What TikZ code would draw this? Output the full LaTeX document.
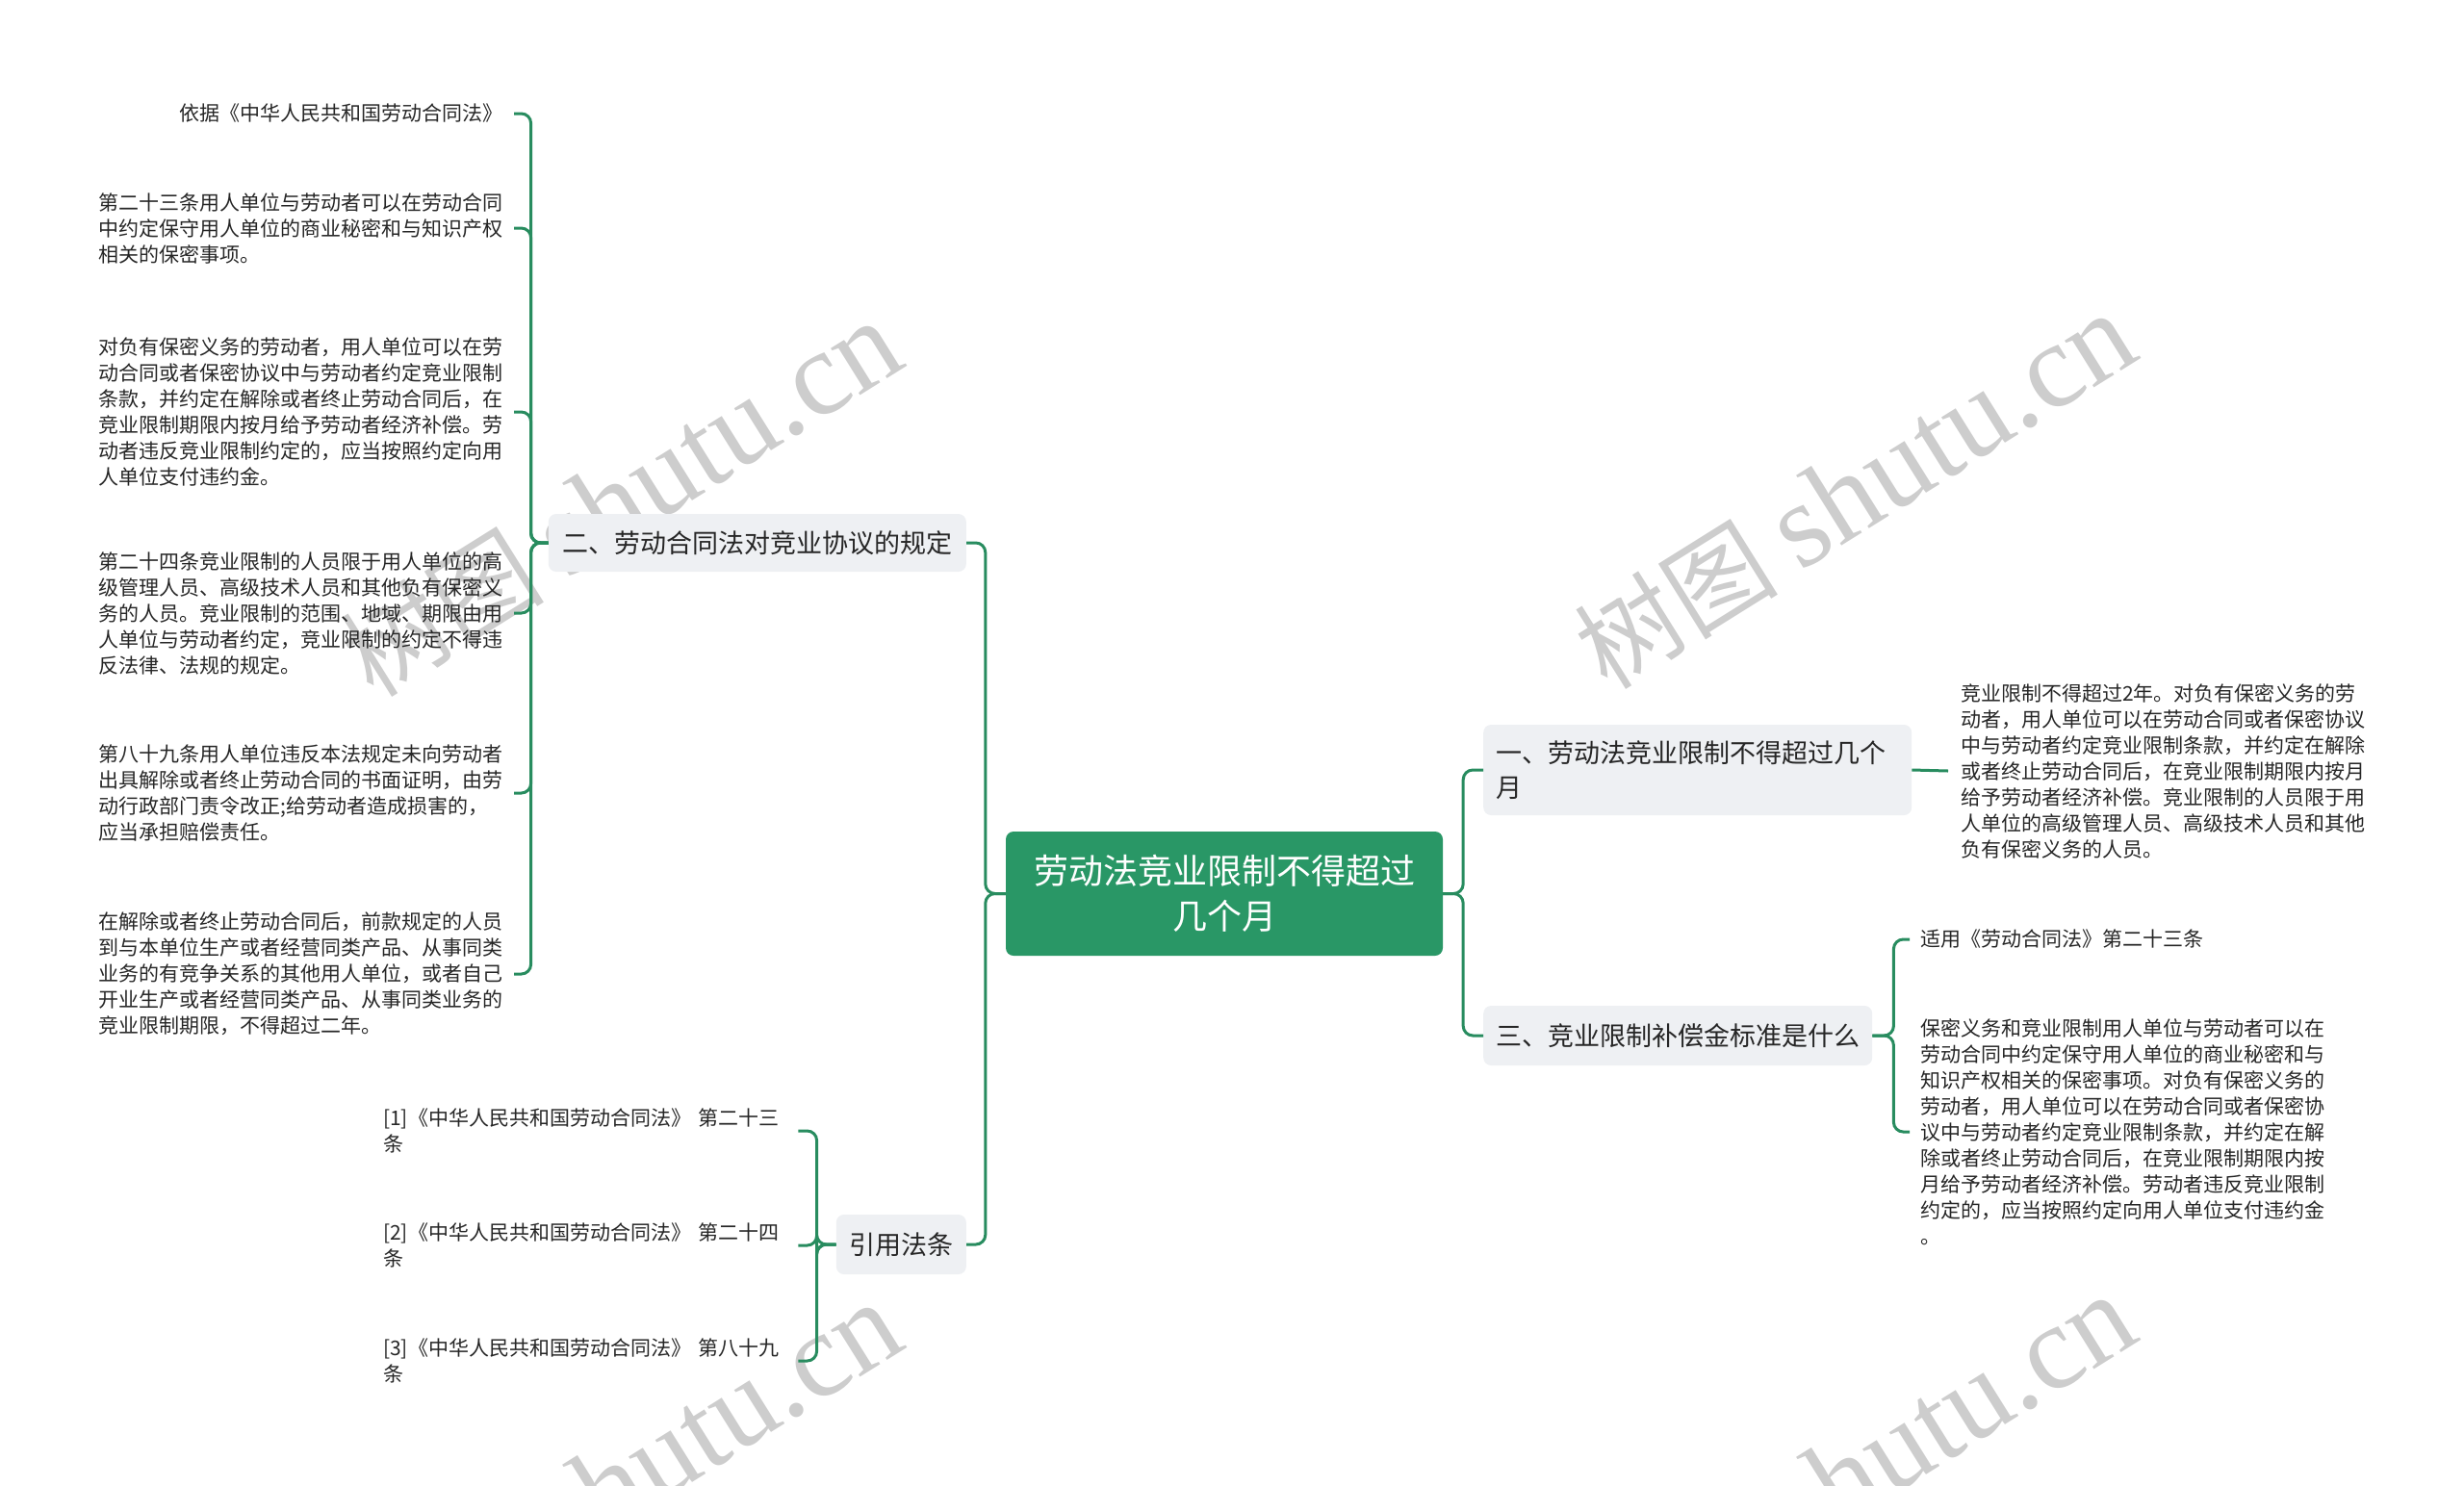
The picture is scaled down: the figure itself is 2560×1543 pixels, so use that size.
\documentclass[tikz,border=0pt]{standalone}
\usepackage{fontspec}
\setmainfont{Noto Sans CJK SC}
\newfontfamily\wmcjk{Noto Sans CJK SC}
\newfontfamily\wmlat{Liberation Serif}
\definecolor{cgreen}{RGB}{41,151,102}
\definecolor{lgreen}{RGB}{40,140,95}
\definecolor{lvlone}{RGB}{238,240,243}
\definecolor{txt}{RGB}{38,38,38}
\definecolor{wm}{RGB}{205,205,205}
\tikzset{
  conn/.style={draw=lgreen, line width=3pt, rounded corners=10pt},
  rootbox/.style={fill=cgreen, rounded corners=8pt, text=white, align=center,
    font=\fontsize{36}{47}\selectfont, minimum width=454pt, minimum height=129pt, inner sep=0pt},
  lvlbox/.style={fill=lvlone, rounded corners=8pt, text=txt, align=left,
    font=\fontsize{27}{36}\selectfont, inner ysep=0pt},
  leaf/.style={text=txt, align=left, font=\fontsize{21}{27}\selectfont, inner xsep=11pt, inner ysep=2pt},
  wmark/.style={text=wm, rotate=32, inner sep=0pt}
}
\begin{document}
\begin{tikzpicture}[x=1pt,y=-1pt]
\useasboundingbox (0,0) rectangle (2560,1543);
% watermarks
\node[wmark] (w1) at (645,519) {\wmcjk\fontsize{106}{110}\selectfont 树图\ \wmlat\fontsize{125}{125}\selectfont shutu.cn};
\node[wmark] (w2) at (1927,511) {\wmcjk\fontsize{106}{110}\selectfont 树图\ \wmlat\fontsize{125}{125}\selectfont shutu.cn};
\node[wmark] (w3) at (645,1539) {\wmcjk\fontsize{106}{110}\selectfont 树图\ \wmlat\fontsize{125}{125}\selectfont shutu.cn};
\node[wmark] (w4) at (1927,1531) {\wmcjk\fontsize{106}{110}\selectfont 树图\ \wmlat\fontsize{125}{125}\selectfont shutu.cn};

% root
\node[rootbox] (root) at (1272,928.5) {劳动法竞业限制不得超过\\几个月};

% level one
\node[lvlbox, anchor=east, inner xsep=14.5pt, minimum height=60pt] (n2) at (1004,564) {二、劳动合同法对竞业协议的规定};
\node[lvlbox, anchor=east, inner xsep=13.5pt, minimum height=62pt] (n4) at (1004,1293) {引用法条};
\node[lvlbox, anchor=west, inner xsep=13pt, minimum height=94pt, text width=419pt] (n1) at (1541,800) {一、劳动法竞业限制不得超过几个\\月};
\node[lvlbox, anchor=west, inner xsep=13pt, minimum height=62pt] (n3) at (1541,1076) {三、竞业限制补偿金标准是什么};

% left leaves
\node[leaf, anchor=east] (c1) at (534,118) {依据《中华人民共和国劳动合同法》};
\node[leaf, anchor=east] (c2) at (534,237) {第二十三条用人单位与劳动者可以在劳动合同\\中约定保守用人单位的商业秘密和与知识产权\\相关的保密事项。};
\node[leaf, anchor=east] (c3) at (534,428) {对负有保密义务的劳动者，用人单位可以在劳\\动合同或者保密协议中与劳动者约定竞业限制\\条款，并约定在解除或者终止劳动合同后，在\\竞业限制期限内按月给予劳动者经济补偿。劳\\动者违反竞业限制约定的，应当按照约定向用\\人单位支付违约金。};
\node[leaf, anchor=east] (c4) at (534,637) {第二十四条竞业限制的人员限于用人单位的高\\级管理人员、高级技术人员和其他负有保密义\\务的人员。竞业限制的范围、地域、期限由用\\人单位与劳动者约定，竞业限制的约定不得违\\反法律、法规的规定。};
\node[leaf, anchor=east] (c5) at (534,824) {第八十九条用人单位违反本法规定未向劳动者\\出具解除或者终止劳动合同的书面证明，由劳\\动行政部门责令改正;给劳动者造成损害的，\\应当承担赔偿责任。};
\node[leaf, anchor=east] (c6) at (534,1012) {在解除或者终止劳动合同后，前款规定的人员\\到与本单位生产或者经营同类产品、从事同类\\业务的有竞争关系的其他用人单位，或者自己\\开业生产或者经营同类产品、从事同类业务的\\竞业限制期限，不得超过二年。};

% citation leaves
\node[leaf, anchor=west, text width=420pt] (q1) at (387,1175) {[1]《中华人民共和国劳动合同法》 第二十三\\条};
\node[leaf, anchor=west, text width=420pt] (q2) at (387,1294) {[2]《中华人民共和国劳动合同法》 第二十四\\条};
\node[leaf, anchor=west, text width=420pt] (q3) at (387,1414) {[3]《中华人民共和国劳动合同法》 第八十九\\条};

% right leaves
\node[leaf, anchor=west, inner xsep=13pt] (r1) at (2024,801) {竞业限制不得超过2年。对负有保密义务的劳\\动者，用人单位可以在劳动合同或者保密协议\\中与劳动者约定竞业限制条款，并约定在解除\\或者终止劳动合同后，在竞业限制期限内按月\\给予劳动者经济补偿。竞业限制的人员限于用\\人单位的高级管理人员、高级技术人员和其他\\负有保密义务的人员。};
\node[leaf, anchor=west] (r2) at (1984,976) {适用《劳动合同法》第二十三条};
\node[leaf, anchor=west] (r3) at (1984,1176) {保密义务和竞业限制用人单位与劳动者可以在\\劳动合同中约定保守用人单位的商业秘密和与\\知识产权相关的保密事项。对负有保密义务的\\劳动者，用人单位可以在劳动合同或者保密协\\议中与劳动者约定竞业限制条款，并约定在解\\除或者终止劳动合同后，在竞业限制期限内按\\月给予劳动者经济补偿。劳动者违反竞业限制\\约定的，应当按照约定向用人单位支付违约金\\。};

% connectors
\draw[conn] (root.west) -- ++(-21,0) |- (n2.east);
\draw[conn] (root.west) -- ++(-21,0) |- (n4.east);
\draw[conn] (root.east) -- ++(21,0) |- (n1.west);
\draw[conn] (root.east) -- ++(21,0) |- (n3.west);

\foreach \c in {c1,c2,c3,c4,c5,c6}
  \draw[conn] (n2.west) -- ++(-18,0) |- (\c.east);
\foreach \q in {q1,q2,q3}
  \draw[conn] (n4.west) -- ++(-20,0) |- (\q.east);
\draw[conn] (n1.east) -- (r1.west);
\draw[conn] (n3.east) -- ++(22,0) |- (r2.west);
\draw[conn] (n3.east) -- ++(22,0) |- (r3.west);
\end{tikzpicture}
\end{document}
